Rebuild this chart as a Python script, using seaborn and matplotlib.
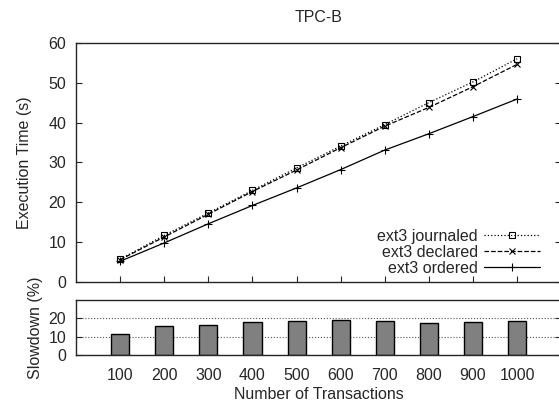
import pandas as pd
import seaborn as sns
import matplotlib.pyplot as plt

transactions = [100, 200, 300, 400, 500, 600, 700, 800, 900, 1000]
journaled = [5.7, 11.7, 17.3, 23.0, 28.6, 34.1, 39.5, 45.0, 50.2, 56.0]
declared = [5.6, 11.3, 17.0, 22.7, 28.1, 33.7, 39.1, 43.8, 49.0, 54.6]
ordered = [5.2, 9.8, 14.6, 19.2, 23.6, 28.2, 33.1, 37.2, 41.5, 45.9]
slowdown = [11.6, 16.1, 16.5, 18.3, 18.9, 19.3, 18.5, 17.8, 18.2, 18.9]

sns.set_style("ticks")
plt.rcParams['font.family'] = ['Liberation Sans', 'DejaVu Sans']
plt.rcParams['font.size'] = 11.5
plt.rcParams['xtick.direction'] = 'in'
plt.rcParams['ytick.direction'] = 'in'

fig = plt.figure(figsize=(5.59, 4.04), dpi=100)
ax1 = fig.add_axes([0.136, 0.302, 0.868, 0.592])
ax2 = fig.add_axes([0.136, 0.121, 0.868, 0.136])

series = [
    ("ext3 journaled", journaled, ':', 's', 4.5, 'none'),
    ("ext3 declared", declared, '--', 'x', 4.5, 'black'),
    ("ext3 ordered", ordered, '-', '+', 5.5, 'black'),
]
for name, vals, ls, mk, ms, mfc in series:
    sns.lineplot(x=transactions, y=vals, ax=ax1, color='black', linestyle=ls,
                 marker=mk, markersize=ms, markerfacecolor=mfc,
                 markeredgecolor='black', markeredgewidth=0.8,
                 linewidth=0.9, label=name)

ax1.set_xlim(0, 1100)
ax1.set_ylim(0, 60)
ax1.set_yticks(range(0, 61, 10))
ax1.set_xticks(transactions)
ax1.tick_params(labelbottom=False, right=True, top=False, length=4)
ax1.tick_params(axis='y', pad=7)
ax1.set_title("TPC-B", fontsize=11.5, pad=15)
ax1.set_ylabel("Execution Time (s)", labelpad=12)
ax1.set_xlabel("")
ax1.legend(loc='lower right', frameon=False, markerfirst=False,
           handlelength=3.5, handletextpad=0.4, labelspacing=0.05,
           borderaxespad=0.0, bbox_to_anchor=(0.97, 0.0))
for t in ax1.legend_.get_texts():
    t.set_ha('right')

df = pd.DataFrame({"transactions": transactions, "slowdown": slowdown})
sns.barplot(data=df, x="transactions", y="slowdown", ax=ax2, native_scale=True,
            color='#808080', edgecolor='black', linewidth=1.0, width=0.41,
            saturation=1)
ax2.set_xlim(0, 1100)
ax2.set_ylim(0, 30)
ax2.set_yticks([0, 10, 20])
ax2.set_xticks(transactions)
ax2.set_xticklabels([str(t) for t in transactions])
ax2.tick_params(axis='x', length=0, pad=9)
ax2.tick_params(axis='y', right=True, length=4, pad=7)
ax2.yaxis.grid(True, linestyle=':', color='#555555', linewidth=0.8)
ax2.set_axisbelow(True)
ax2.set_ylabel("Slowdown (%)")
ax2.set_xlabel("Number of Transactions", labelpad=3)

for ax in (ax1, ax2):
    for s in ax.spines.values():
        s.set_visible(True)
        s.set_linewidth(1.0)

fig.align_ylabels([ax1, ax2])
fig.savefig("out.png", dpi=100)
